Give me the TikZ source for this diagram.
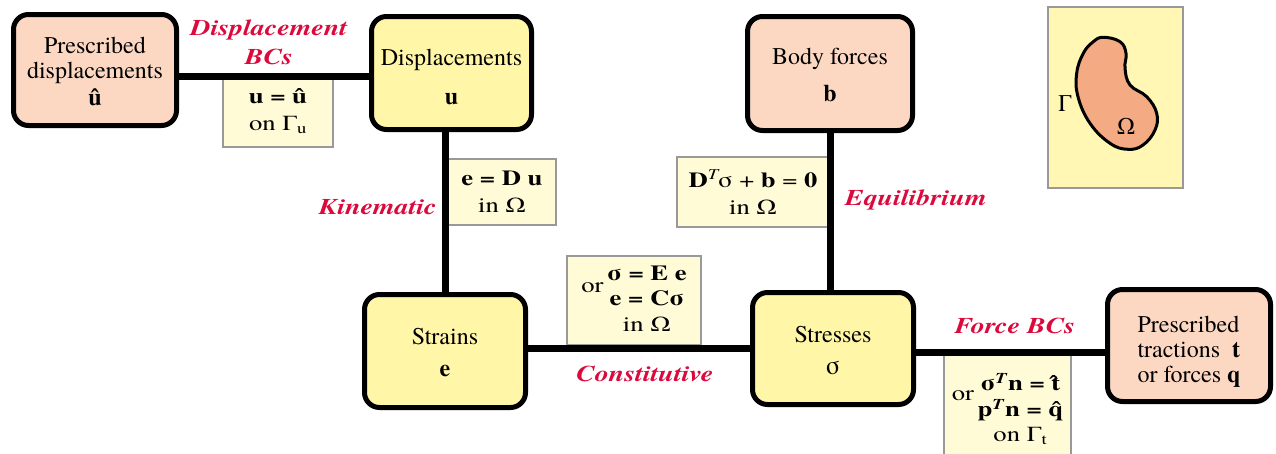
\documentclass[tikz,border=0pt]{standalone}
\usepackage{fontspec}
\setmainfont{texgyretermes}[Extension=.otf, UprightFont=*-regular, BoldFont=*-bold, ItalicFont=*-italic, BoldItalicFont=*-bolditalic]
\newfontfamily\widefont{texgyretermes}[Extension=.otf, UprightFont=*-regular, BoldFont=*-bold, ItalicFont=*-italic, BoldItalicFont=*-bolditalic, FakeStretch=1.24]
\definecolor{salmon}{HTML}{FCD8C3}
\definecolor{yell}{HTML}{FFF6A7}
\definecolor{labelfill}{HTML}{FFFBD7}
\definecolor{omegafill}{HTML}{FFF7B3}
\definecolor{blob}{HTML}{F4AB83}
\definecolor{redc}{HTML}{DB0A3C}
\tikzset{
  mainbox/.style={draw, line width=5pt, rounded corners=15pt, align=center, inner sep=0pt, font=\fontsize{24}{25}\selectfont},
  pbox/.style={mainbox, fill=salmon},
  ybox/.style={mainbox, fill=yell},
  lbl/.style={draw=gray!80, line width=1.3pt, fill=labelfill, align=center, inner sep=0pt, font=\widefont\fontsize{21.5}{27}\selectfont},
  redlbl/.style={text=redc, font=\widefont\fontsize{22.5}{29}\selectfont\bfseries\itshape, align=center, inner sep=0pt},
  conn/.style={line width=7pt},
  plain/.style={inner sep=0pt, font=\fontsize{24}{25}\selectfont},
}
\begin{document}
\begin{tikzpicture}[x=1pt,y=-1pt]
\useasboundingbox (0,0) rectangle (1276,453);

% main boxes
\node[pbox, minimum width=163, minimum height=111] (pd) at (95,70) {\rule{0pt}{20pt}Prescribed\\displacements\\[2pt]\textbf{û}};
\node[ybox, minimum width=160, minimum height=113] (disp) at (451.5,73) {\rule{0pt}{24pt}Displacements\\[14pt]\textbf{u}};
\node[pbox, minimum width=165, minimum height=114] (body) at (830,73.5) {\rule{0pt}{20pt}Body forces\\[12pt]\textbf{b}};
\node[ybox, minimum width=161, minimum height=113] (strain) at (445,351) {\rule{0pt}{20pt}Strains\\[7pt]\textbf{e}};
\node[ybox, minimum width=161, minimum height=112] (stress) at (833,348.5) {\rule{0pt}{21pt}Stresses\\[7pt]\fontsize{26}{26}\selectfont σ};
\node[pbox, minimum width=163, minimum height=112, align=left] (pt) at (1189,345.5) {\rule{0pt}{28pt}Prescribed\\tractions\ \ \textbf{t}\\or forces \textbf{q}};

% label boxes
\node[lbl, minimum width=110, minimum height=71] (bcu) at (278,111.5) {\textbf{u = û}\\on Γ\textsubscript{u}};
\node[lbl, minimum width=108, minimum height=66] (kin) at (502,192) {\textbf{e = D u}\\in Ω};
\node[lbl, minimum width=152, minimum height=70] (eq) at (753,192) {\textbf{D}\textsuperscript{\textit{T}}\kern-2ptσ + \textbf{b} = \textbf{0}\\in Ω};
\node[lbl, minimum width=134, minimum height=89] (cons) at (634,300.5) {%
  \begin{tabular}{@{}r@{\,}c@{}}
  \raisebox{-12pt}[0pt][0pt]{or} & \textbf{σ = E e}\\[-2pt]
   & \textbf{e = Cσ}\\[-1pt]
   & in Ω
  \end{tabular}};
\node[lbl, minimum width=127, minimum height=110, anchor=north] (fbc) at (1007.5,355) {%
  \begin{tabular}{@{}r@{\,}c@{}}
  \raisebox{-10pt}[0pt][0pt]{or} & \textbf{σ\textsuperscript{\textit{T}}n = \^{t}}\\[-1pt]
   & \textbf{p\textsuperscript{\textit{T}}n = \^{q}}\\[-2pt]
   & on Γ\textsubscript{t}
  \end{tabular}};

% connectors
\draw[conn] ([yshift=-6pt]pd.east) -- ([yshift=-6pt]pd.east -| disp.west);
\draw[conn] (disp.south -| strain.north) -- (strain.north);
\draw[conn] (body.south) -- (body.south |- stress.north);
\draw[conn] (strain.east |- stress.west) -- (stress.west);
\draw[conn] ([yshift=-3.5pt]stress.east) -- ([yshift=-3.5pt]stress.east -| pt.west);

% red labels
\node[redlbl] (lDisp) at (269,42) {Displacement\\BCs};
\node[redlbl, anchor=east] (lKin) at (437,207) {Kinematic};
\node[redlbl, anchor=west] (lEq) at (845,200) {Equilibrium};
\node[redlbl] (lCons) at (645,374) {Constitutive};
\node[redlbl] (lForce) at (1015,326) {Force BCs};

% domain sketch
\node[draw=gray!80, line width=1.5pt, fill=omegafill, minimum width=135, minimum height=181, inner sep=0pt] (dom) at (1115.5,97.5) {};
\draw[line width=3pt, fill=blob] plot[smooth cycle, tension=0.7] coordinates {
  (1103.3,37.3) (1120,41.7) (1126,53.3) (1125,68.3) (1130,85) (1146.7,96.7)
  (1156.7,113.3) (1155,130) (1143,145) (1128,149.3) (1110,143.3) (1090,123.3)
  (1078,96.7) (1076.7,73.3) (1083.3,53.3) (1093.3,41.7)};
\node[plain] (gam) at (1065,104) {Γ};
\node[plain] (om) at (1126,126) {Ω};
\end{tikzpicture}
\end{document}
